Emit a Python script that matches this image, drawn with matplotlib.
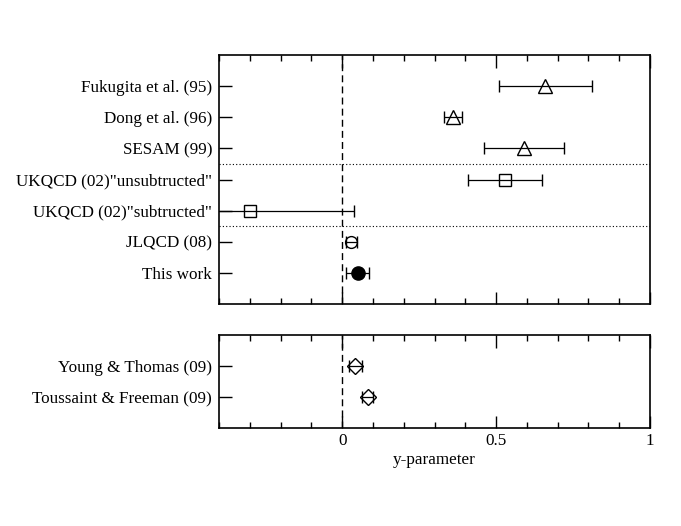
import matplotlib
matplotlib.use('Agg')
import matplotlib.pyplot as plt
from matplotlib.ticker import MultipleLocator, FixedLocator

plt.rcParams['font.family'] = ['Liberation Serif', 'DejaVu Serif']

# top panel (lattice results), listed top to bottom
top_labels = ['Fukugita et al. (95)', 'Dong et al. (96)', 'SESAM (99)',
              'UKQCD (02)"unsubtructed"', 'UKQCD (02)"subtructed"',
              'JLQCD (08)', 'This work']
top_vals = [0.66, 0.36, 0.59, 0.53, -0.30, 0.03, 0.05]
top_errs = [0.15, 0.03, 0.13, 0.12, 0.34, 0.017, 0.036]
top_markers = ['^', '^', '^', 's', 's', 'o', 'o']
top_fill = ['none', 'none', 'none', 'none', 'none', 'none', 'black']
top_msize = [10, 10, 10, 8.5, 8.5, 8.5, 9.5]

# bottom panel
bot_labels = ['Young & Thomas (09)', 'Toussaint & Freeman (09)']
bot_vals = [0.043, 0.083]
bot_errs = [0.022, 0.018]

fs = 12.3

fig = plt.figure(figsize=(6.81, 5.26), dpi=100)
ax1 = fig.add_axes([219/681, 1-304/526, 431/681, 249/526])
ax2 = fig.add_axes([219/681, 1-428/526, 431/681, 93/526])

n = len(top_labels)
ypos = [n - i for i in range(n)]
for y, v, e, m, fc, ms in zip(ypos, top_vals, top_errs, top_markers, top_fill, top_msize):
    ax1.errorbar(v, y, xerr=e, fmt=m, mfc=fc, mec='black', ecolor='black', color='black',
                 ms=ms, mew=1.0, elinewidth=0.9, capsize=4.5, capthick=0.9)
ax1.set_ylim(0, n + 1)
ax1.set_yticks(ypos)
ax1.set_yticklabels(top_labels)
# separators between groups
ax1.axhline(4.5, color='black', ls=(0, (1, 2)), lw=0.8)
ax1.axhline(2.5, color='black', ls=(0, (1, 2)), lw=0.8)

nb = len(bot_labels)
ypos2 = [nb - i for i in range(nb)]
for y, v, e in zip(ypos2, bot_vals, bot_errs):
    ax2.errorbar(v, y, xerr=e, fmt='D', mfc='none', mec='black', ecolor='black',
                 ms=8, mew=1.0, elinewidth=0.9, capsize=4.5, capthick=0.9)
ax2.set_ylim(0, nb + 1)
ax2.set_yticks(ypos2)
ax2.set_yticklabels(bot_labels)

for ax in (ax1, ax2):
    ax.set_xlim(-0.4, 1.0)
    ax.axvline(0, color='black', ls=(0, (5, 3)), lw=1.0)
    ax.xaxis.set_major_locator(FixedLocator([0, 0.5, 1]))
    ax.xaxis.set_minor_locator(MultipleLocator(0.1))
    ax.tick_params(axis='x', which='major', direction='in', top=True, bottom=True,
                   length=9, width=1.0, labelsize=fs)
    ax.tick_params(axis='x', which='minor', direction='in', top=True, bottom=True,
                   length=4.5, width=1.0)
    ax.tick_params(axis='y', which='major', direction='in', left=True, right=False,
                   length=9, width=1.0, labelsize=fs, pad=5)
    for s in ax.spines.values():
        s.set_linewidth(1.2)

ax1.tick_params(axis='x', labelbottom=False)
ax2.set_xticklabels(['0', '0.5', '1'])
ax2.set_xlabel('y-parameter', fontsize=fs, labelpad=2)

fig.savefig('out.png', dpi=100)
